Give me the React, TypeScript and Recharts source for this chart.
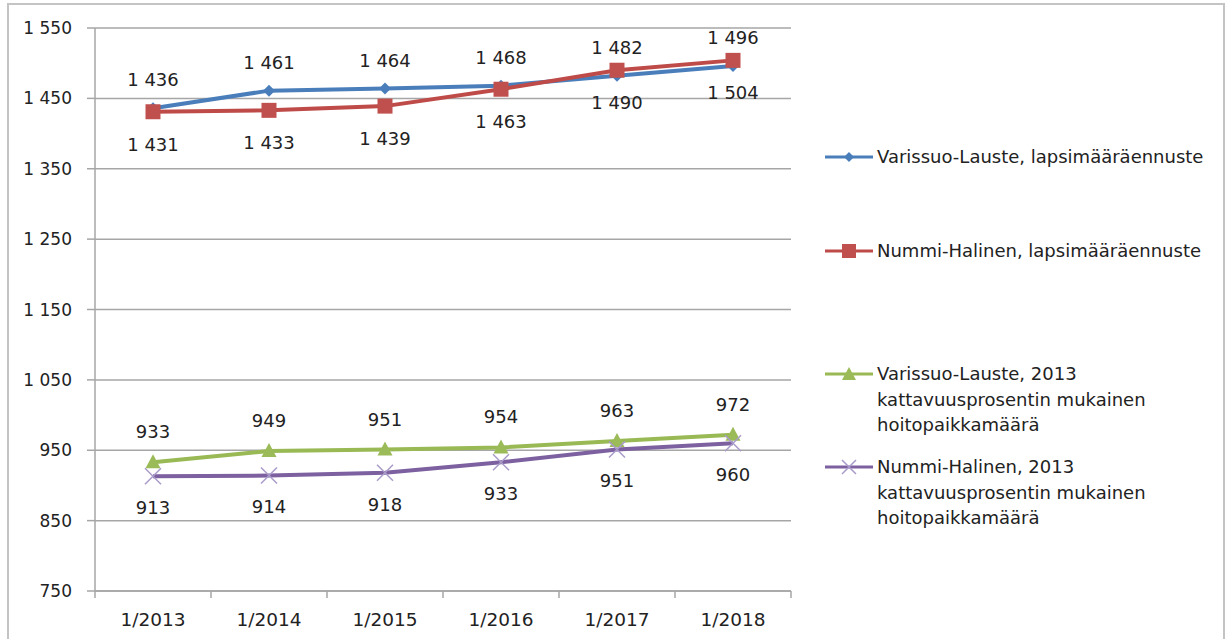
import { LineChart, Line, XAxis, YAxis, CartesianGrid, Legend, LabelList } from 'recharts';

const years = ['1/2013', '1/2014', '1/2015', '1/2016', '1/2017', '1/2018'];
const varissuoKids = [1436, 1461, 1464, 1468, 1482, 1496];
const nummiKids = [1431, 1433, 1439, 1463, 1490, 1504];
const varissuoPlaces = [933, 949, 951, 954, 963, 972];
const nummiPlaces = [913, 914, 918, 933, 951, 960];
const yTicks = [750, 850, 950, 1050, 1150, 1250, 1350, 1450, 1550];

const seriesNames = [
  'Varissuo-Lauste, lapsimääräennuste',
  'Nummi-Halinen, lapsimääräennuste',
  'Varissuo-Lauste, 2013 kattavuusprosentin mukainen hoitopaikkamäärä',
  'Nummi-Halinen, 2013 kattavuusprosentin mukainen hoitopaikkamäärä',
];

const data = years.map((year, i) => ({
  year,
  vk: varissuoKids[i],
  nk: nummiKids[i],
  vp: varissuoPlaces[i],
  np: nummiPlaces[i],
}));

const W = 1226;
const H = 642;
const HALF_BAND = 58;
const FONT = '"DejaVu Sans", Verdana, sans-serif';
const GRID = '#a6a6a6';
const TEXT = '#222';

const BLUE = '#4a7ebb';
const RED = '#be4b48';
const GREEN = '#98b954';
const PURPLE = '#7d60a0';
const LAVENDER = '#a99bc9';

const fmt = (v: number) =>
  v >= 1000 ? `${Math.floor(v / 1000)} ${String(v % 1000).padStart(3, '0')}` : String(v);

const diamond = (cx: number, cy: number, r: number) =>
  `M${cx},${cy - r}L${cx + r},${cy}L${cx},${cy + r}L${cx - r},${cy}Z`;

const DiamondDot = (p: any) => (
  <path key={`d${p.index}`} d={diamond(p.cx, p.cy, 6)} fill={BLUE} />
);
const SquareDot = (p: any) => (
  <rect key={`s${p.index}`} x={p.cx - 7.5} y={p.cy - 7.5} width={15} height={15} fill="#c0504d" />
);
const TriangleDot = (p: any) => (
  <path
    key={`t${p.index}`}
    d={`M${p.cx},${p.cy - 8}L${p.cx + 7.5},${p.cy + 6}L${p.cx - 7.5},${p.cy + 6}Z`}
    fill="#9bbb59"
  />
);
const CrossDot = (p: any) => (
  <path
    key={`x${p.index}`}
    d={`M${p.cx - 8},${p.cy - 8}L${p.cx + 8},${p.cy + 8}M${p.cx + 8},${p.cy - 8}L${p.cx - 8},${p.cy + 8}`}
    stroke={LAVENDER}
    strokeWidth={1.5}
    fill="none"
  />
);

const XTick = (props: any) => {
  const { x, y, payload, index } = props;
  const last = index === years.length - 1;
  return (
    <g>
      <line x1={x - HALF_BAND} x2={x - HALF_BAND} y1={y} y2={y + 7} stroke={GRID} strokeWidth={1.5} />
      {last && <line x1={x + HALF_BAND} x2={x + HALF_BAND} y1={y} y2={y + 7} stroke={GRID} strokeWidth={1.5} />}
      <text x={x} y={y + 35} textAnchor="middle" fontSize={18.5} fontFamily={FONT} fill={TEXT}>
        {payload.value}
      </text>
    </g>
  );
};

const legendMarks = [
  (cx: number, cy: number) => <path d={diamond(cx, cy, 5)} fill={BLUE} />,
  (cx: number, cy: number) => <rect x={cx - 7} y={cy - 7} width={14} height={14} fill="#c0504d" />,
  (cx: number, cy: number) => (
    <path d={`M${cx},${cy - 7}L${cx + 7},${cy + 6}L${cx - 7},${cy + 6}Z`} fill="#9bbb59" />
  ),
  (cx: number, cy: number) => (
    <path
      d={`M${cx - 7},${cy - 7}L${cx + 7},${cy + 7}M${cx + 7},${cy - 7}L${cx - 7},${cy + 7}`}
      stroke={LAVENDER}
      strokeWidth={1.5}
    />
  ),
];
const legendColors = [BLUE, RED, GREEN, PURPLE];
const legendTops = [144, 238, 361, 454];

const LegendContent = () => (
  <div style={{ position: 'relative', width: 406, height: H, fontFamily: FONT, fontSize: 18, color: TEXT }}>
    {seriesNames.map((name, i) => (
      <div key={name} style={{ position: 'absolute', left: 0, top: legendTops[i], display: 'flex' }}>
        <svg width={52} height={26} style={{ flex: 'none' }}>
          <line x1={0} x2={48} y1={13} y2={13} stroke={legendColors[i]} strokeWidth={3} />
          {legendMarks[i](24, 13)}
        </svg>
        <div style={{ width: i < 2 ? 345 : 300, lineHeight: '25.5px', whiteSpace: i < 2 ? 'nowrap' : 'normal' }}>
          {name}
        </div>
      </div>
    ))}
  </div>
);

export default function App() {
  return (
    <div style={{ position: 'absolute', left: 0, top: 0, width: W, height: H, background: '#fff' }}>
      <div
        style={{
          position: 'absolute',
          left: 7,
          top: 3,
          width: 1218,
          height: 636,
          border: '2px solid #c4c4c4',
          borderBottom: 'none',
          boxSizing: 'border-box',
        }}
      />
      <LineChart
        width={W}
        height={H}
        data={data}
        margin={{ top: 28, right: 435, bottom: 11, left: 0 }}
        style={{ position: 'absolute', left: 0, top: 0 }}
      >
        <CartesianGrid vertical={false} stroke={GRID} strokeWidth={1.5} />
        <XAxis
          dataKey="year"
          padding={{ left: HALF_BAND, right: HALF_BAND }}
          height={40}
          tickSize={0}
          tickMargin={0}
          tick={<XTick />}
          stroke={GRID}
          strokeWidth={1.5}
          interval={0}
        />
        <YAxis
          width={95}
          domain={[750, 1550]}
          ticks={yTicks}
          tickFormatter={fmt}
          tickSize={8}
          tickMargin={15}
          stroke={GRID}
          strokeWidth={1.5}
          tick={{ fill: TEXT, fontSize: 17, fontFamily: FONT }}
        />
        <Legend
          layout="vertical"
          align="center"
          verticalAlign="middle"
          wrapperStyle={{ left: 825, top: 0, width: 406, height: H }}
          content={<LegendContent />}
        />
        <Line dataKey="vk" name={seriesNames[0]} stroke={BLUE} strokeWidth={4} dot={DiamondDot} isAnimationActive={false}>
          <LabelList dataKey="vk" position="top" offset={22} formatter={fmt} fill={TEXT} fontSize={18} fontFamily={FONT} />
        </Line>
        <Line dataKey="nk" name={seriesNames[1]} stroke={RED} strokeWidth={4} dot={SquareDot} isAnimationActive={false}>
          <LabelList dataKey="nk" position="bottom" offset={26} formatter={fmt} fill={TEXT} fontSize={18} fontFamily={FONT} />
        </Line>
        <Line dataKey="vp" name={seriesNames[2]} stroke={GREEN} strokeWidth={4} dot={TriangleDot} isAnimationActive={false}>
          <LabelList dataKey="vp" position="top" offset={24} formatter={fmt} fill={TEXT} fontSize={18} fontFamily={FONT} />
        </Line>
        <Line dataKey="np" name={seriesNames[3]} stroke={PURPLE} strokeWidth={4} dot={CrossDot} isAnimationActive={false}>
          <LabelList dataKey="np" position="bottom" offset={25} formatter={fmt} fill={TEXT} fontSize={18} fontFamily={FONT} />
        </Line>
      </LineChart>
    </div>
  );
}
